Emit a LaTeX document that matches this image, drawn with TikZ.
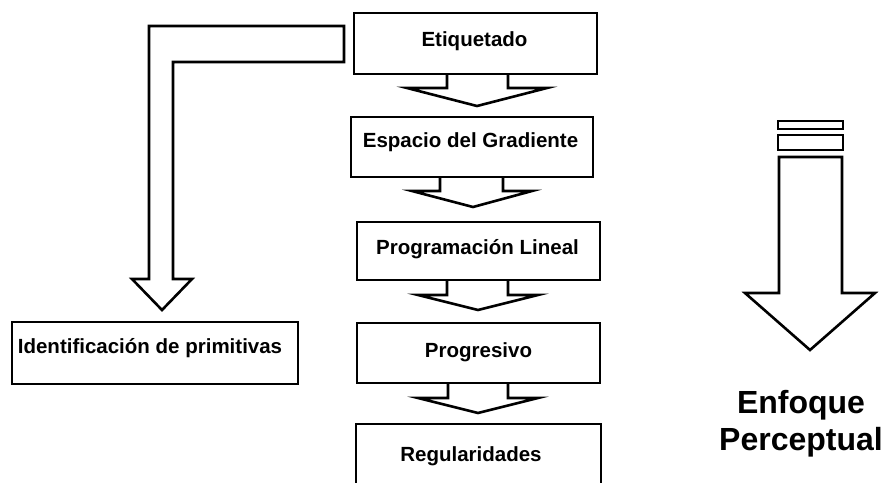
\documentclass[tikz,border=0pt]{standalone}
\usepackage{fontspec}
\setmainfont{Liberation Sans}
\usetikzlibrary{calc}
\begin{document}
\begin{tikzpicture}[x=1pt,y=-1pt,
  ln/.style={line width=2.6pt, draw=black, line join=miter},
  box/.style={draw=black, line width=2.6pt, rectangle, inner sep=0pt, outer sep=0pt},
  lbl/.style={font=\fontsize{20.5}{24}\selectfont\bfseries, inner sep=0pt, anchor=base},
  big/.style={font=\fontsize{32}{37}\selectfont\bfseries, inner sep=0pt, anchor=base}]
\clip (0,0) rectangle (888,482);
\fill[white] (0,0) rectangle (888,482);
% boxes
\node[box, minimum width=243pt, minimum height=61pt] (eti) at (475.5,43.5) {};
\node[box, minimum width=242pt, minimum height=60pt] (esp) at (472,147) {};
\node[box, minimum width=243pt, minimum height=58pt] (pl) at (478.5,251) {};
\node[box, minimum width=243pt, minimum height=60pt] (pr) at (478.5,353) {};
\node[box, minimum width=245pt, minimum height=100pt] (reg) at (478.5,474) {};
\node[box, minimum width=286pt, minimum height=62pt] (idf) at (155,353) {};
% labels
\node[lbl] (etit) at (474.5,46) {Etiquetado};
\node[lbl] (espt) at (470.5,147) {Espacio del Gradiente};
\node[lbl] (plt) at (477.5,254) {Programación Lineal};
\node[lbl] (prt) at (478.5,357) {Progresivo};
\node[lbl] (regt) at (471,461) {Regularidades};
\node[lbl] (idft) at (150,353) {Identificación de primitivas};
% block arrows between boxes
\draw[ln] (447,0 |- eti.south) |- (407,88) -- (477,106) -- (547,88) -| (508,0 |- eti.south);
\draw[ln] (440,0 |- esp.south) |- (412,191) -- (473,207) -- (532,191) -| (503,0 |- esp.south);
\draw[ln] (447,0 |- pl.south) |- (418,295) -- (478,310) -- (538,295) -| (508,0 |- pl.south);
\draw[ln] (448,0 |- pr.south) |- (418,398) -- (478,413) -- (538,398) -| (508,0 |- pr.south);
% L-shaped arrow
\draw[ln] (344,26) -- (149,26) -- (149,279) -- (132,279) -- (162,310) -- (192,279) -- (173,279) -- (173,62) -- (344,62) -- cycle;
% big arrow on the right
\draw[ln] (778,121) rectangle (843,129);
\draw[ln] (778,135) rectangle (843,150);
\draw[ln] (779,157) -- (842,157) -- (842,293) -- (875,293) -- (810,350) -- (745,293) -- (779,293) -- cycle;
\node[big] (enf1) at (801,413) {Enfoque};
\node[big] (enf2) at (801,450) {Perceptual};
\end{tikzpicture}
\end{document}
